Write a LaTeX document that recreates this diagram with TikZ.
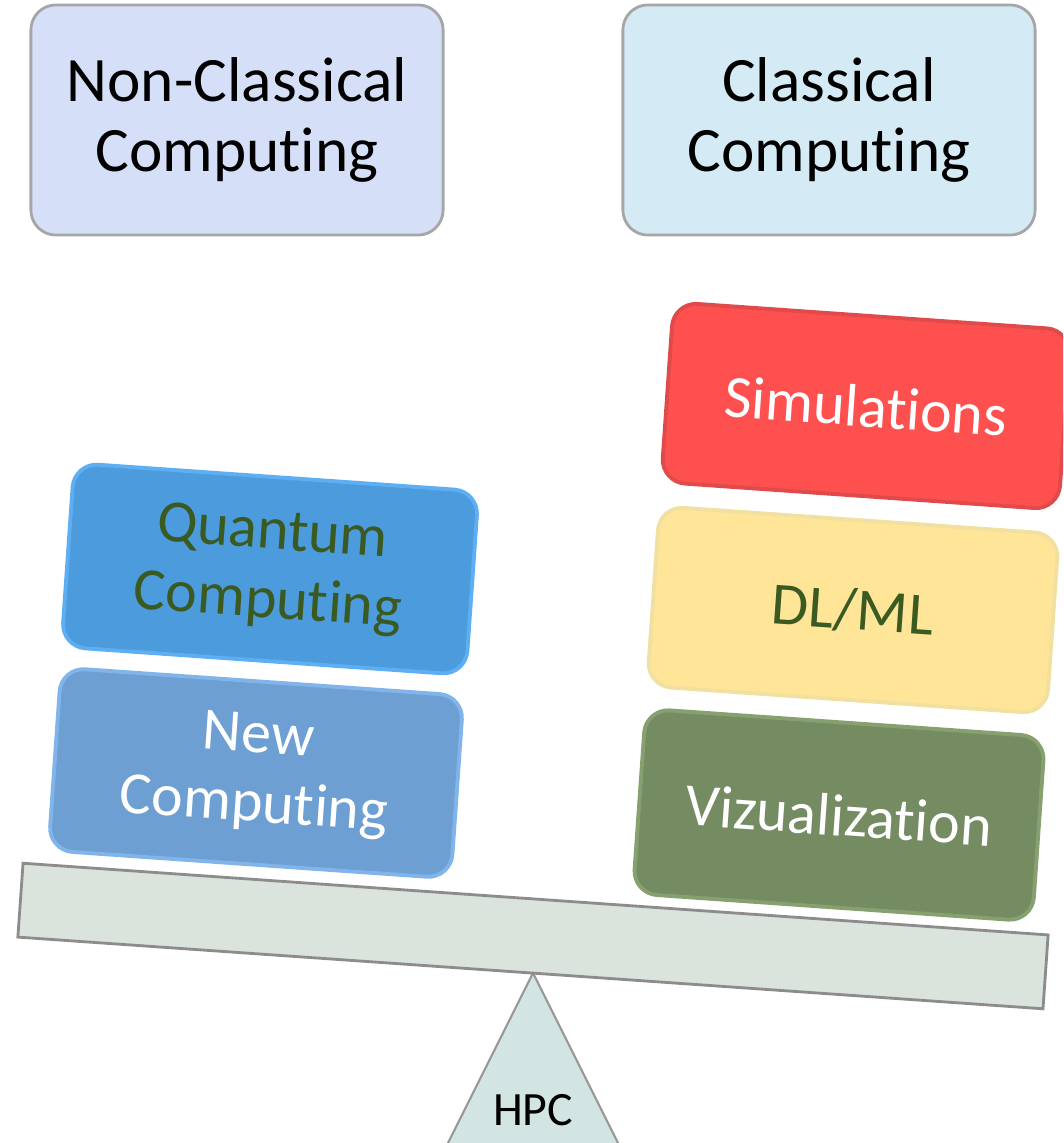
\documentclass[tikz,border=0pt]{standalone}
\usepackage{fontspec}
\setmainfont{Carlito}[Ligatures={NoCommon}]
\definecolor{ncfill}{HTML}{D6DFF8}
\definecolor{clfill}{HTML}{D4EBF5}
\definecolor{qfill}{HTML}{4B9BDD}
\definecolor{qedge}{HTML}{5DAEF2}
\definecolor{newfill}{HTML}{6E9FD3}
\definecolor{newedge}{HTML}{80B4EA}
\definecolor{simfill}{HTML}{FF5050}
\definecolor{simedge}{HTML}{E04A4A}
\definecolor{dlfill}{HTML}{FFE598}
\definecolor{dledge}{HTML}{F2E0A0}
\definecolor{vizfill}{HTML}{758C63}
\definecolor{vizedge}{HTML}{86A070}
\definecolor{tgreen}{HTML}{3A5A22}
\definecolor{beamfill}{HTML}{DAE3DC}
\definecolor{trifill}{HTML}{D3E5E3}
\begin{document}
\begin{tikzpicture}[x=0.01cm,y=-0.01cm,
  topbox/.style={draw=black!35, line width=0.8pt, rounded corners=0.25cm,
    minimum width=4.12cm, minimum height=2.3cm, align=center, text=black,
    font=\fontsize{18pt}{20pt}\selectfont},
  tiltbox/.style={rotate=-4, rounded corners=0.24cm, align=center,
    line width=1.1pt, font=\fontsize{17.07pt}{19.6pt}\selectfont},
  beamstyle/.style={rotate=-4, draw=black!45, line width=0.8pt, fill=beamfill,
    minimum width=10.27cm, minimum height=0.74cm, inner sep=0pt},
  tristyle/.style={draw=black!40, line width=0.6pt, fill=trifill},
]
\clip (0,0) rectangle (1063,1143);
\fill[white] (0,0) rectangle (1063,1143);

% top labels
\node[topbox, fill=ncfill] (noncl) at (237,120) {Non-Classical\\Computing};
\node[topbox, fill=clfill] (cl) at (829,120) {Classical\\Computing};

% fulcrum
\coordinate (apex) at (533,973);
\coordinate (bl) at (447,1145);
\coordinate (br) at (619,1145);
\draw[tristyle] (apex) -- (bl) -- (br) -- cycle;
\node[font=\fontsize{13.6pt}{15pt}\selectfont, text=black] (hpc) at (533,1110) {HPC};

% left stack
\node[tiltbox, fill=qfill, draw=qedge, minimum width=4.05cm, minimum height=1.84cm,
  text=tgreen] (quantum) at (270,569) {Quantum\\Computing};
\node[tiltbox, fill=newfill, draw=newedge, minimum width=4.03cm, minimum height=1.83cm,
  text=white] (newc) at (256,773) {New\\Computing};

% right stack
\node[tiltbox, fill=simfill, draw=simedge, minimum width=3.98cm, minimum height=1.80cm,
  text=white] (sim) at (866,406) {Simulations};
\node[tiltbox, fill=dlfill, draw=dledge, minimum width=4.0cm, minimum height=1.80cm,
  text=tgreen] (dlml) at (853,610) {DL/ML};
\node[tiltbox, fill=vizfill, draw=vizedge, minimum width=4.0cm, minimum height=1.85cm,
  text=white] (viz) at (839,815) {Vizualization};

% beam
\node[beamstyle] (beam) at (533,936) {};
\end{tikzpicture}
\end{document}
